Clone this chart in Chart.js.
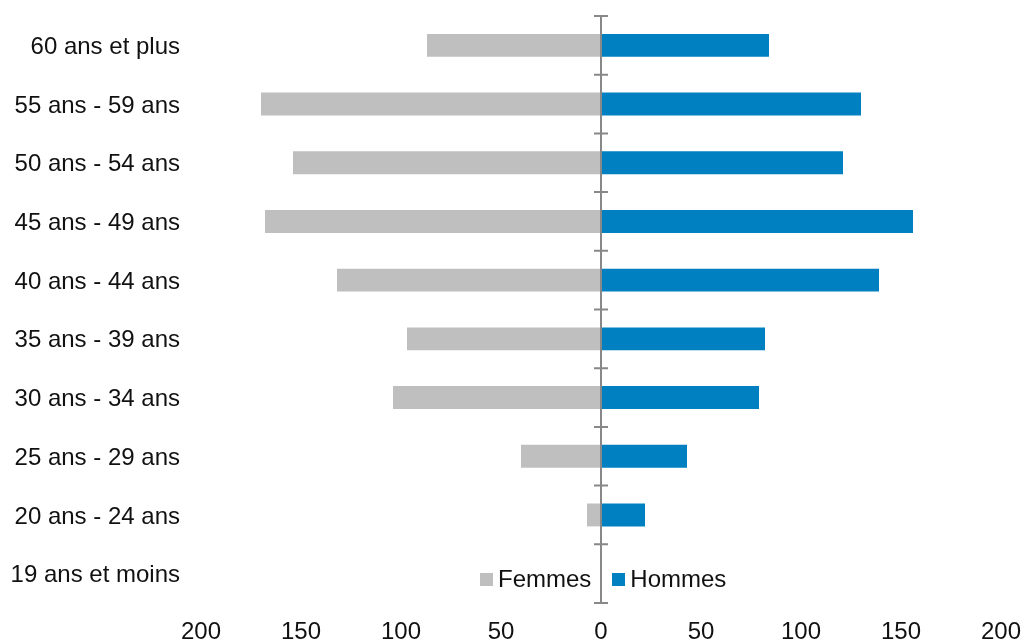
<!DOCTYPE html>
<html lang="fr">
<head>
<meta charset="utf-8">
<script src="https://cdn.jsdelivr.net/npm/chart.js@4"></script>
<style>
  html, body { margin: 0; padding: 0; background: #fff; }
  #wrap { position: relative; width: 1023px; height: 643px; }
  #legend {
    position: absolute; top: 567px; left: 480px;
    font-family: "Liberation Sans", Arial, sans-serif; font-size: 24px; line-height: 24px; color: #111;
    display: flex; align-items: center; white-space: nowrap;
  }
  #legend .sw { display: inline-block; width: 13px; height: 13px; margin-right: 5px; }
  #legend .item { display: inline-flex; align-items: center; }
</style>
</head>
<body>
<div id="wrap">
  <canvas id="pyramid" width="1023" height="643"></canvas>
  <div id="legend">
    <span class="item"><span class="sw" style="background:#bfbfbf"></span>Femmes</span>
    <span class="item" style="margin-left:21px"><span class="sw" style="background:#0080c0"></span>Hommes</span>
  </div>
</div>
<script>
// ── Data ─────────────────────────────────────────────────────────────────────
const AGE_GROUPS = [
  "60 ans et plus", "55 ans - 59 ans", "50 ans - 54 ans", "45 ans - 49 ans",
  "40 ans - 44 ans", "35 ans - 39 ans", "30 ans - 34 ans", "25 ans - 29 ans",
  "20 ans - 24 ans", "19 ans et moins",
];
const FEMMES = [87, 170, 154, 168, 132, 97, 104, 40, 7, 0];
const HOMMES = [84, 130, 121, 156, 139, 82, 79, 43, 22, 0];

const FONT = { family: "'Liberation Sans', Arial, sans-serif", size: 24 };

// centre axis line with tick marks at category boundaries
const centreAxis = {
  id: "centreAxis",
  afterDatasetsDraw(chart) {
    const { ctx, chartArea, scales } = chart;
    const x0 = scales.x.getPixelForValue(0);
    const n = AGE_GROUPS.length;
    const step = (chartArea.bottom - chartArea.top) / n;
    ctx.save();
    ctx.strokeStyle = "#888888";
    ctx.lineWidth = 2;
    ctx.beginPath();
    ctx.moveTo(x0, chartArea.top);
    ctx.lineTo(x0, chartArea.bottom);
    for (let i = 0; i <= n; i++) {
      const y = chartArea.top + i * step;
      ctx.moveTo(x0 - 7, y);
      ctx.lineTo(x0 + 7, y);
    }
    ctx.stroke();
    ctx.restore();
  },
};

new Chart(document.getElementById("pyramid"), {
  type: "bar",
  data: {
    labels: AGE_GROUPS,
    datasets: [
      { label: "Femmes", data: FEMMES.map(v => -v), backgroundColor: "#bfbfbf" },
      { label: "Hommes", data: HOMMES, backgroundColor: "#0080c0" },
    ],
  },
  options: {
    indexAxis: "y",
    responsive: false,
    animation: false,
    datasets: { bar: { categoryPercentage: 1, barPercentage: 0.39 } },
    layout: { padding: { top: 16, right: 22, left: 0, bottom: 0 } },
    plugins: { legend: { display: false }, tooltip: { enabled: false } },
    scales: {
      x: {
        stacked: true,
        min: -200, max: 200,
        grid: { display: false, drawTicks: false },
        border: { display: false },
        ticks: {
          stepSize: 50, padding: 15, color: "#111", font: FONT,
          maxRotation: 0,
          callback: v => Math.abs(v),
        },
        afterFit(scale) {
          scale.height = 40;
          scale.paddingLeft = 0; scale.paddingRight = 0;
        },
      },
      y: {
        stacked: true,
        grid: { display: false, drawTicks: false },
        border: { display: false },
        ticks: { padding: 21, labelOffset: 2, color: "#111", font: FONT },
        afterFit(scale) {
          scale.width = 201;
          scale.paddingTop = 0; scale.paddingBottom = 0;
        },
      },
    },
  },
  plugins: [centreAxis],
});
</script>
</body>
</html>
